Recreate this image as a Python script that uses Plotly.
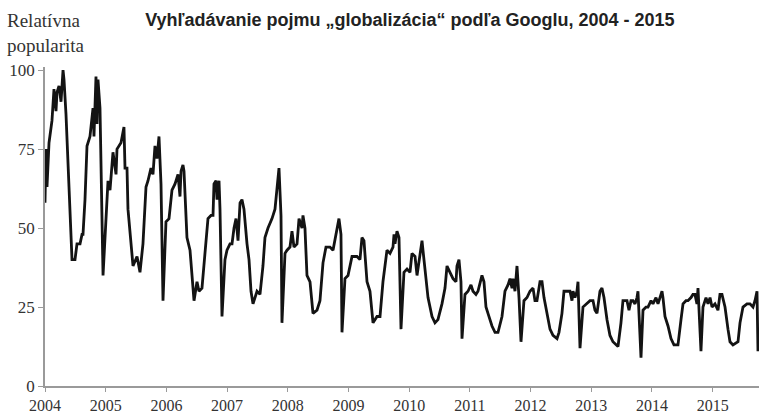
import plotly.graph_objects as go

# Time (decimal years) and relative popularity
time_years = [
    2004.000, 2004.016, 2004.033, 2004.066, 2004.115, 2004.148, 2004.181, 2004.198, 2004.231, 2004.264,
    2004.297, 2004.313, 2004.346, 2004.379, 2004.387, 2004.412, 2004.445, 2004.494, 2004.527, 2004.577,
    2004.610, 2004.626, 2004.659, 2004.692, 2004.741, 2004.791, 2004.807, 2004.840, 2004.857, 2004.873,
    2004.906, 2004.956, 2005.005, 2005.038, 2005.071, 2005.120, 2005.170, 2005.186, 2005.252, 2005.301,
    2005.318, 2005.351, 2005.367, 2005.417, 2005.450, 2005.516, 2005.565, 2005.614, 2005.664, 2005.697,
    2005.746, 2005.779, 2005.812, 2005.845, 2005.878, 2005.911, 2005.944, 2005.993, 2006.043, 2006.092,
    2006.142, 2006.191, 2006.224, 2006.241, 2006.273, 2006.290, 2006.339, 2006.389, 2006.438, 2006.455,
    2006.504, 2006.537, 2006.586, 2006.619, 2006.652, 2006.685, 2006.735, 2006.768, 2006.784, 2006.817,
    2006.834, 2006.867, 2006.883, 2006.916, 2006.965, 2006.998, 2007.048, 2007.081, 2007.114, 2007.147,
    2007.180, 2007.213, 2007.245, 2007.278, 2007.328, 2007.361, 2007.394, 2007.427, 2007.493, 2007.542,
    2007.591, 2007.624, 2007.674, 2007.740, 2007.789, 2007.822, 2007.855, 2007.888, 2007.904, 2007.954,
    2007.987, 2008.036, 2008.069, 2008.102, 2008.152, 2008.185, 2008.234, 2008.250, 2008.283, 2008.316,
    2008.366, 2008.415, 2008.481, 2008.530, 2008.580, 2008.629, 2008.695, 2008.745, 2008.778, 2008.811,
    2008.843, 2008.876, 2008.893, 2008.942, 2008.992, 2009.058, 2009.140, 2009.189, 2009.222, 2009.255,
    2009.305, 2009.354, 2009.404, 2009.470, 2009.519, 2009.568, 2009.634, 2009.684, 2009.733, 2009.750,
    2009.766, 2009.799, 2009.832, 2009.865, 2009.914, 2009.964, 2010.013, 2010.046, 2010.096, 2010.129,
    2010.178, 2010.211, 2010.227, 2010.277, 2010.310, 2010.376, 2010.425, 2010.474, 2010.540, 2010.590,
    2010.623, 2010.672, 2010.722, 2010.771, 2010.787, 2010.820, 2010.853, 2010.870, 2010.919, 2010.969,
    2011.018, 2011.051, 2011.100, 2011.133, 2011.199, 2011.232, 2011.265, 2011.298, 2011.364, 2011.414,
    2011.463, 2011.529, 2011.578, 2011.628, 2011.661, 2011.694, 2011.710, 2011.743, 2011.776, 2011.809,
    2011.842, 2011.891, 2011.941, 2011.990, 2012.040, 2012.072, 2012.105, 2012.155, 2012.188, 2012.221,
    2012.270, 2012.320, 2012.369, 2012.435, 2012.468, 2012.517, 2012.550, 2012.600, 2012.649, 2012.682,
    2012.699, 2012.731, 2012.764, 2012.781, 2012.814, 2012.863, 2012.929, 2012.979, 2013.028, 2013.061,
    2013.094, 2013.143, 2013.176, 2013.209, 2013.259, 2013.308, 2013.357, 2013.440, 2013.489, 2013.522,
    2013.588, 2013.621, 2013.654, 2013.687, 2013.720, 2013.753, 2013.769, 2013.802, 2013.819, 2013.852,
    2013.901, 2013.934, 2013.984, 2014.016, 2014.066, 2014.099, 2014.165, 2014.181, 2014.214, 2014.264,
    2014.313, 2014.362, 2014.428, 2014.478, 2014.511, 2014.560, 2014.593, 2014.643, 2014.675, 2014.708,
    2014.741, 2014.758, 2014.791, 2014.807, 2014.840, 2014.890, 2014.923, 2014.956, 2014.989, 2015.038,
    2015.087, 2015.120, 2015.153, 2015.203, 2015.252, 2015.285, 2015.334, 2015.417, 2015.450, 2015.499,
    2015.565, 2015.614, 2015.664, 2015.697, 2015.730, 2015.746,
]

popularity = [
    58, 75, 63, 77, 84, 94, 87, 93, 95, 90,
    100, 97, 86, 72, 65, 58, 40, 40, 45, 45,
    48, 48, 59, 76, 79, 88, 79, 98, 83, 97,
    88, 35, 55, 65, 62, 74, 67, 75, 77, 82,
    69, 69, 56, 46, 38, 41, 36, 45, 63, 65,
    69, 67, 76, 72, 79, 64, 27, 52, 53, 62,
    64, 67, 60, 68, 70, 68, 47, 43, 31, 27,
    33, 30, 31, 38, 47, 53, 54, 54, 64, 65,
    59, 65, 56, 22, 40, 43, 45, 45, 50, 53,
    46, 58, 59, 56, 45, 40, 30, 26, 30, 29,
    38, 47, 50, 53, 56, 62, 69, 54, 20, 42,
    43, 44, 49, 44, 45, 53, 50, 54, 50, 35,
    33, 23, 24, 27, 39, 44, 44, 43, 46, 50,
    53, 48, 17, 34, 35, 41, 41, 40, 47, 46,
    33, 30, 20, 22, 22, 33, 43, 42, 44, 48,
    45, 49, 47, 18, 36, 37, 36, 42, 41, 35,
    42, 46, 43, 35, 28, 22, 20, 21, 26, 31,
    38, 36, 34, 33, 38, 40, 33, 15, 29, 30,
    32, 30, 29, 30, 35, 33, 25, 23, 19, 17,
    17, 22, 30, 32, 34, 31, 34, 30, 38, 28,
    14, 27, 28, 30, 31, 27, 27, 33, 33, 28,
    23, 18, 16, 15, 17, 23, 30, 30, 30, 27,
    30, 28, 30, 33, 12, 25, 26, 27, 27, 24,
    23, 30, 31, 28, 21, 16, 14, 12.5, 20, 27,
    27, 24, 27, 27, 26, 28, 30, 18, 9, 24,
    25, 25, 27, 26, 28, 26, 30, 28, 22, 19,
    15, 13, 13, 21, 26, 27, 27, 28, 29, 29,
    26, 31, 20, 11, 25, 28, 26, 28, 25, 26,
    24, 29, 29, 25, 18, 14, 13, 14, 20, 25,
    26, 26, 25, 27, 30, 11,
]

year_ticks = list(range(2004, 2016))
year_labels = [str(y) for y in year_ticks]
y_ticks = [0, 25, 50, 75, 100]

title_text = "Vyhľadávanie pojmu „globalizácia“ podľa Googlu, 2004 - 2015"
y_title = "Relatívna<br>popularita"

fig = go.Figure()
fig.add_trace(go.Scatter(
    x=time_years, y=popularity, mode="lines",
    line=dict(color="#131313", width=2.8),
    hoverinfo="x+y", showlegend=False,
))

serif = "Liberation Serif, Times New Roman, serif"

fig.update_layout(
    width=759, height=414,
    margin=dict(l=45, r=0, t=67, b=28, autoexpand=False),
    paper_bgcolor="white", plot_bgcolor="white",
    title=dict(
        text="<b>" + title_text + "</b>",
        x=0.540, xref="container", xanchor="center",
        y=0.952, yref="container", yanchor="middle",
        font=dict(family="Liberation Sans, Arial, sans-serif", size=18, color="#222222"),
    ),
    xaxis=dict(
        range=[2004, 2015.763], tickmode="array", tickvals=year_ticks, ticktext=year_labels,
        showgrid=False, zeroline=False, showline=True, linecolor="#9a9a9a", linewidth=1.5,
        ticks="outside", ticklen=4, tickcolor="#9a9a9a", tickwidth=1.2,
        tickfont=dict(family=serif, size=16, color="#333333"),
        automargin=False,
    ),
    yaxis=dict(
        range=[0, 101], tickmode="array", tickvals=y_ticks,
        showgrid=False, zeroline=False, showline=True, linecolor="#9a9a9a", linewidth=1.5,
        ticks="outside", ticklen=5, tickcolor="#9a9a9a", tickwidth=1.2,
        tickfont=dict(family=serif, size=17, color="#333333"),
        automargin=False,
    ),
    annotations=[dict(
        text=y_title, xref="paper", yref="paper", x=-0.056, y=1.185,
        xanchor="left", yanchor="top", align="left", showarrow=False,
        font=dict(family=serif, size=19, color="#333333"),
    )],
)

fig.write_html("out.html", config={"displayModeBar": False},
               post_script="document.body.style.margin='0';")
